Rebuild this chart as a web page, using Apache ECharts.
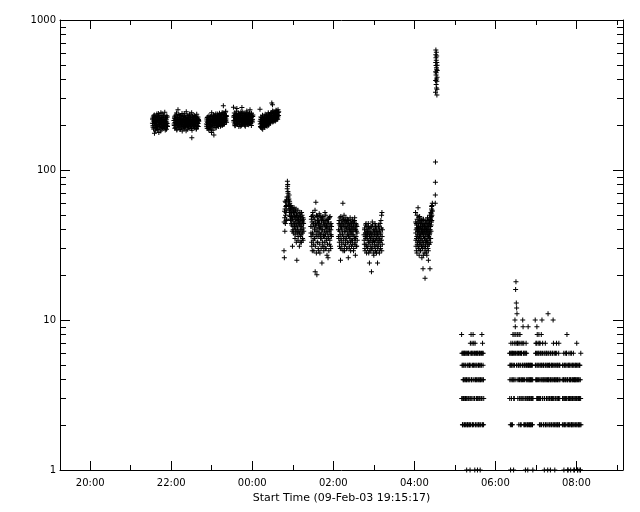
<!DOCTYPE html>
<html><head><meta charset="utf-8">
<script src="https://cdn.jsdelivr.net/npm/echarts@6/dist/echarts.min.js"></script>
<style>html,body{margin:0;padding:0;background:#fff}#c{width:640px;height:512px}</style>
</head><body><div id="c"></div>
<script>
// ---- axis definitions ----
const axisTitle = 'Start Time (09-Feb-03 19:15:17)';
const xMin = 19 + 15/60 + 17/3600;   // 19:15:17
const xMax = 33.15;                   // ~09:09 next day
const xMajorTicks = [20, 22, 24, 26, 28, 30, 32];
const xMinorTicks = [21, 23, 25, 27, 29, 31, 33];
const yMajorTicks = [1, 10, 100, 1000];
const yMinorTicks = [2,3,4,5,6,7,8,9,20,30,40,50,60,70,80,90,200,300,400,500,600,700,800,900];

// ---- data segments: start clock time, cadence (s), values ----
const segStarts = ['21:32:10','22:04:00','22:52:10','23:32:10','00:11:25',
                   '00:47:00','01:26:40','02:07:40','02:45:30',
                   '04:01:50','04:31:00',
                   '05:10:00','06:21:00','06:59:00','07:39:00'];
const segSteps  = [15,15,15,15,15, 15,15,15,15, 10,6, 15,15,15,15];

const valsA = [205,218,221,197,193,226,212,188,230,204,198,233,176,209,215,192,207,219,224,183,
  199,227,211,202,190,214,236,196,203,229,217,186,195,212,209,238,228,201,178,220,
  213,193,201,231,220,207,196,215,207,182,241,199,188,224,214,210,203,237,225,194,
  192,216,210,189,218,205,199,228,232,200,206,213,194,243,212,191,185,211,222,206,
  200,223,216,187,209,230,197,204,226,195];
const valsB = [214,203,198,221,226,190,207,229,219,208,191,215,233,197,205,240,212,185,188,212,
  224,226,201,199,252,217,209,206,196,234,218,193,230,211,203,222,186,188,215,205,
  207,219,222,231,194,200,211,214,238,182,199,209,213,227,227,196,190,216,206,203,
  217,237,202,191,229,213,195,224,210,198,221,210,183,245,214,201,205,218,232,187,
  198,207,219,229,208,195,193,220,225,211,211,202,201,233,236,190,196,214,216,225,
  204,197,222,209,189,241,164,184,213,216,228,204,200,223,207,199,218,212,194,230,
  231,193,209,218,198,206,215,227,203,202,224,215,187,189,212,235,220,208,199,196,
  208,221,226,204,195,217,214,211];
const valsC = [203,196,219,212,190,224,208,201,226,189,196,217,211,205,185,230,215,193,200,209,
  222,187,194,216,207,227,213,199,188,211,178,241,229,196,202,220,216,206,198,184,
  210,223,233,212,171,199,205,230,221,209,197,192,214,218,226,236,203,204,191,225,
  218,213,209,197,236,227,200,218,224,206,212,232,195,215,228,203,207,239,219,210,
  202,221,231,196,214,229,198,212,225,207,210,234,240,218,205,199,220,241,213,215,
  268,226,201,209,217,237,235,203,208,230,224,219,212,244,246,213,219,231,227,208];
const valsD = [262,226,214,209,231,240,203,215,225,197,198,233,219,221,236,204,208,246,227,212,
  257,218,212,230,201,205,229,224,217,238,240,210,195,227,223,200,210,236,233,215,
  206,229,221,196,244,221,214,239,199,212,261,225,218,203,230,243,207,217,225,208,
  213,232,238,211,202,224,220,199,229,237,196,220,216,206,234,228,209,213,222,247,
  241,210,204,226,226,201,215,235,232,218,200,229,219,208,211,240,236,222,252,214,
  207,231,224,205,214,224,198,239,230,211,218,228,209,216,227,233];
const valsE = [254,211,203,195,218,226,192,204,209,217,224,190,198,209,213,232,187,200,206,214,
  220,197,201,223,215,207,195,218,228,193,210,235,199,212,217,203,205,226,231,198,
  212,216,196,230,224,205,208,221,219,241,236,199,203,213,215,228,227,207,210,233,
  221,218,206,225,238,210,214,242,229,220,280,232,218,215,272,247,209,226,233,211,
  224,238,245,219,213,233,230,225,219,244,236,212,222,229,241,250,216,221,228,236,
  248,227,220,240,235,218,226,252,242,231,231,245];
const valsF = [29,45,26,53,48,39,55,62,44,50,61,57,52,46,58,63,47,54,66,75,
  84,78,80,72,70,66,63,59,57,64,68,55,52,62,60,50,49,57,55,47,
  46,53,58,44,51,49,43,56,54,39,31,47,48,42,40,55,52,38,45,50,
  56,44,42,52,49,35,37,47,53,40,44,55,39,33,50,43,25,48,46,38,
  41,50,54,34,36,45,47,39,43,48,51,31,38,44,45,52,33,36,49,40,
  42,47,37,33,52,43,40,50,46,38,35,45,48,34,41,47,44,39];
const valsG = [42,38,36,47,49,33,31,42,45,29,38,50,52,37,34,44,44,32,29,48,
  47,35,40,41,35,54,21,31,43,45,61,39,37,28,50,43,20,36,33,49,
  46,33,39,41,30,46,44,29,36,38,51,44,41,32,28,50,48,37,35,42,
  42,30,38,45,47,35,24,40,40,48,33,31,49,43,37,36,45,29,31,46,
  43,39,36,33,52,44,30,37,41,50,46,30,34,42,39,35,27,47,44,32,
  38,41,26,36,47,45,35,29,42,39,32,48,40,34,49,43,37,31,30,40,
  44,37,36,42];
const valsH = [40,36,35,44,46,33,31,39,43,48,37,30,25,42,49,35,34,45,41,32,
  30,40,44,37,38,47,60,29,33,43,47,35,36,50,42,31,29,39,45,46,
  39,34,32,42,48,36,35,45,41,30,30,39,44,47,37,33,33,41,26,36,
  46,43,38,30,31,40,43,35,36,48,40,33,29,38,45,44,34,31,42,39,
  37,45,47,34,32,41,39,37,44,29,30,43,41,36,35,46,48,32,33,40,
  27,35,40,44,36,31,43,39,31,42,38,34];
const valsI = [37,34,32,40,41,30,29,36,38,43,35,32,44,38,31,28,36,42,40,35,
  30,37,39,31,34,44,42,33,28,39,37,29,24,36,33,41,41,31,35,38,
  29,34,38,42,21,30,36,37,32,45,43,33,30,35,39,28,34,40,27,36,
  40,31,33,38,37,44,29,34,42,29,31,39,36,35,28,41,39,32,34,37,
  24,30,38,36,31,42,43,33,35,39,29,28,40,35,33,44,37,31,30,38,
  46,34,34,41,50,29,52,36,32,40];
const valsJ = [52,45,38,34,31,40,44,29,35,43,41,36,28,50,47,32,33,41,39,37,
  36,44,56,31,30,39,42,35,34,48,45,30,27,41,38,36,49,33,32,46,
  40,29,35,42,29,37,43,33,37,45,46,31,31,40,39,35,26,47,44,30,
  34,38,41,43,30,32,22,40,38,27,47,36,33,44,36,31,28,39,42,35,
  35,43,40,30,19,38,44,33,31,41,37,35,29,46,45,28,34,40,39,33,
  27,37,42,44,33,31,48,39,36,34,30,42,41,29,25,36,38,43,46,32,
  32,40,44,35,37,45,50,38,22,47,40,33,47,42,35,48,52,39,43,51,
  49,45,55,57,46,50,58,54,53,60];
const valsK = [60,68,83,113,330,395,452,520,587,631,560,498,430,372,445,540,610,480,405,352,
  470,575,520,390,316,345,415,500,460];
const valsL = [8,3,6,5,3,2,2,6,5,4,6,3,4,5,2,6,3,2,6,4,
  5,6,4,3,2,5,6,2,3,4,1,6,4,3,6,2,2,5,5,4,
  3,6,6,2,4,3,2,5,5,4,1,6,7,2,3,5,8,3,6,4,
  4,6,7,2,2,5,6,3,8,4,5,2,7,6,3,5,6,3,1,4,
  7,2,4,6,2,5,5,3,6,4,3,2,4,6,1,3,6,5,2,4,
  5,2,3,6,4,3,6,5,2,4,1,6,4,2,5,3,3,5,6,4,
  8,3,2,6,7,2,4,5,6,4,2,3];
const valsM1 = [6,3,4,5,5,2,1,6,7,4,6,3,2,5,5,6,4,2,6,7,
  8,4,5,6,1,3,4,8,3,5,6,7,10,4,9,6,16,8,18,7,
  13,5,12,6,11,4,8,7,6,3,7,5,5,6,4,2,8,7,3,4,
  6,5,8,3,2,6,5,4,7,2,4,6,6,3,3,7,5,4,10,5,
  9,3,4,6,7,2,6,5,2,4,5,6,3,3,1,2,6,5,7,4,
  5,6,3,2,4,5,2,3,1,4,9,5,5,2,3,4,4,3,2,5,
  3,4,5,2,4,5,2,3,3,4,5,2,4,3,3,5,2,4,1,3];
const valsM2 = [10,5,6,4,5,7,7,6,4,3,9,5,8,4,3,6,5,7,6,3,
  4,5,8,6,7,2,3,4,5,7,2,3,6,5,4,6,8,2,5,4,
  10,5,3,6,7,3,4,4,2,5,5,2,6,4,1,3,3,6,4,5,
  7,2,5,4,2,6,6,3,4,5,3,2,5,4,1,6,11,3,4,5,
  6,4,2,2,3,5,5,3,4,6,1,4,6,2,3,5,2,3,5,4,
  4,6,3,5,6,2,10,4,7,3,2,5,5,6,4,2,1,4,3,3,
  6,5,4,2,2,4,7,6,5,3,3,5,4,2,2,4,5,3,3,6,
  7,2,4,5,2,3,5,4];
const valsM3 = [4,2,3,5,5,3,2,4,4,6,1,3,3,2,5,4,2,5,6,3,
  4,2,5,4,3,6,6,3,8,5,2,4,4,1,1,3,5,2,3,5,
  6,4,2,3,4,5,5,2,3,4,1,6,4,3,6,2,2,5,3,4,
  5,3,4,2,2,5,6,4,3,1,5,2,1,4,4,3,3,5,2,4,
  5,3,4,2,3,5,7,4,2,3,4,1,1,5,5,2,3,4,2,3,
  4,2,3,5,5,1,2,4,1,3,6,2];

const segValues = [valsA,valsB,valsC,valsD,valsE,valsF,valsG,valsH,valsI,valsJ,valsK,valsL,valsM1,valsM2,valsM3];

function clockToHours(s) {
  const p = s.split(':').map(Number);
  let h = p[0] + p[1]/60 + p[2]/3600;
  if (h < 12) h += 24;   // after midnight -> next day
  return h;
}
const points = [];
segValues.forEach((vals, k) => {
  const t0 = clockToHours(segStarts[k]);
  const dt = segSteps[k] / 3600;
  vals.forEach((v, i) => points.push([t0 + i*dt, v]));
});

const FONT = 'DejaVu Sans';
const plus = 'path://M0,2L5,2L5,3L0,3Z M2,0L3,0L3,5L2,5Z';
const lineStyle = {color:'#000', width:1};
function xAx(pos, ticks, len, showLine, showLabel, extra) {
  return Object.assign({
    type:'value', position:pos, min:xMin, max:xMax,
    axisLine:{show:showLine, lineStyle},
    axisTick:{show:true, inside:true, length:len, customValues:ticks, lineStyle},
    axisLabel:{show:showLabel, customValues:xMajorTicks, margin:8, color:'#000', fontFamily:FONT, fontSize:10,
      formatter: v => String(Math.round(v) % 24).padStart(2,'0') + ':00'},
    splitLine:{show:false}
  }, extra || {});
}
function yAx(pos, ticks, len, showLine, showLabel) {
  return {
    type:'log', logBase:10, position:pos, min:1, max:1000,
    axisLine:{show:showLine, lineStyle},
    axisTick:{show:true, inside:true, length:len, customValues:ticks, lineStyle},
    axisLabel:{show:showLabel, margin:4, color:'#000', fontFamily:FONT, fontSize:10,
      formatter: v => String(Math.round(v))},
    splitLine:{show:false}, minorTick:{show:false}
  };
}

const chart = echarts.init(document.getElementById('c'), null, {renderer:'canvas'});
chart.setOption({
  animation:false,
  backgroundColor:'#fff',
  grid:{left:60, right:17, top:20, bottom:42, containLabel:false},
  xAxis:[
    xAx('bottom', xMajorTicks, 9, true, true, {name:axisTitle, nameLocation:'middle', nameGap:21,
      nameTextStyle:{color:'#000', fontFamily:FONT, fontSize:11}}),
    xAx('bottom', xMinorTicks, 5, false, false),
    xAx('top', xMajorTicks, 9, true, false),
    xAx('top', xMinorTicks, 5, false, false)
  ],
  yAxis:[
    yAx('left', yMajorTicks, 10, true, true),
    yAx('left', yMinorTicks, 6, false, false),
    yAx('right', yMajorTicks, 10, true, false),
    yAx('right', yMinorTicks, 6, false, false)
  ],
  series:[{
    type:'scatter', xAxisIndex:0, yAxisIndex:0,
    symbol:plus, symbolSize:5,
    itemStyle:{color:'#000', opacity:1},
    emphasis:{disabled:true},
    data:points
  }]
});
</script></body></html>
